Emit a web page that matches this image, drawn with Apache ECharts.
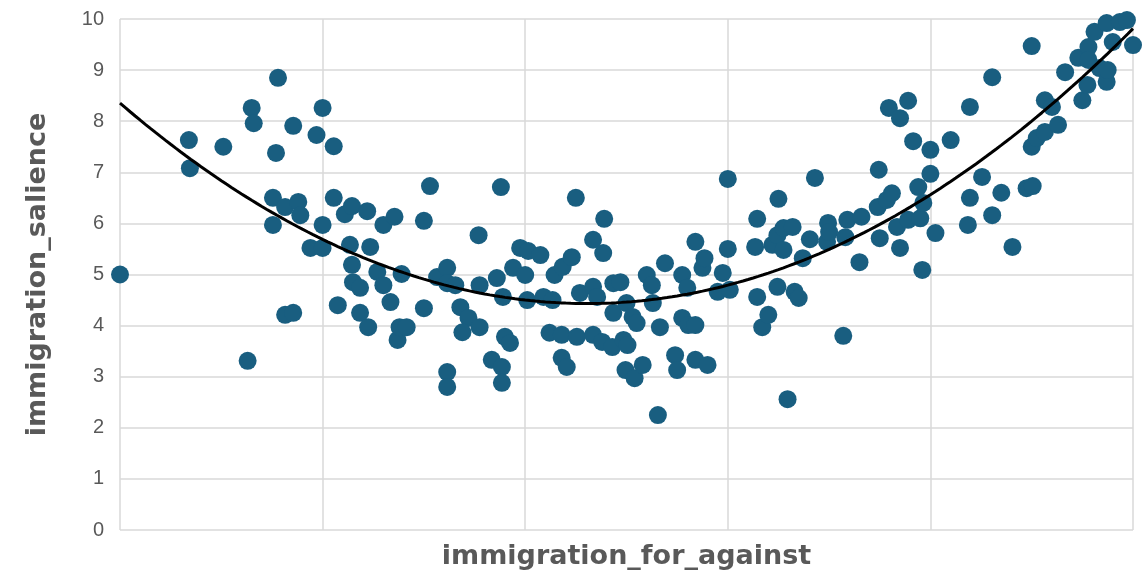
<!DOCTYPE html>
<html>
<head>
<meta charset="utf-8">
<script src="https://cdn.jsdelivr.net/npm/echarts@6/dist/echarts.min.js"></script>
<style>
  html, body { margin: 0; padding: 0; background: #ffffff; }
  #chart { width: 1145px; height: 576px; }
</style>
</head>
<body>
<div id="chart"></div>
<script>
// Survey responses: position on immigration (for/against) vs. how salient the issue is
const forAgainst = [
  0.00, 0.68, 0.69, 1.02, 1.26, 1.30, 1.32, 1.51, 1.51, 1.54, 1.56, 1.63, 1.63, 1.71, 1.71, 1.76, 1.78, 1.88, 1.94, 2.00,
  2.00, 2.00, 2.11, 2.11, 2.15, 2.22, 2.27, 2.29, 2.29, 2.30, 2.37, 2.37, 2.44, 2.45, 2.47, 2.54, 2.60, 2.60, 2.67, 2.71,
  2.74, 2.76, 2.83, 2.78, 3.00, 3.00, 3.06, 3.13, 3.23, 3.23, 3.23, 3.23, 3.31, 3.36, 3.44, 3.38, 3.55, 3.54, 3.55, 3.67,
  3.72, 3.76, 3.77, 3.77, 3.78, 3.80, 3.85, 3.88, 3.95, 4.00, 4.02, 4.03, 4.15, 4.18, 4.24, 4.27, 4.29, 4.36, 4.36, 4.37,
  4.41, 4.46, 4.50, 4.51, 4.54, 4.67, 4.67, 4.67, 4.71, 4.76, 4.77, 4.78, 4.86, 4.87, 4.87, 4.94, 4.97, 4.99, 5.00, 5.01,
  5.06, 5.10, 5.08, 5.16, 5.20, 5.25, 5.26, 5.31, 5.33, 5.38, 5.48, 5.50, 5.55, 5.55, 5.60, 5.61, 5.68, 5.68, 5.68, 5.75,
  5.77, 5.80, 5.90, 5.95, 6.00, 6.00, 6.02, 6.27, 6.29, 6.29, 6.34, 6.40, 6.44, 6.49, 6.49, 6.50, 6.55, 6.55, 6.59, 6.64,
  6.66, 6.70, 6.74, 6.81, 6.86, 6.98, 6.99, 7.00, 7.14, 7.16, 7.18, 7.30, 7.32, 7.48, 7.49, 7.50, 7.57, 7.59, 7.62, 7.67,
  7.70, 7.70, 7.78, 7.78, 7.83, 7.88, 7.90, 7.92, 7.93, 8.00, 8.00, 8.05, 8.20, 8.37, 8.39, 8.39, 8.51, 8.61, 8.61, 8.70,
  8.81, 8.95, 9.01, 9.00, 9.00, 9.05, 9.13, 9.13, 9.20, 9.26, 9.33, 9.46, 9.50, 9.55, 9.56, 9.56, 9.62, 9.67, 9.74, 9.74,
  9.75, 9.80, 9.87, 9.94, 10.00
];
const salience = [
  5.00, 7.63, 7.08, 7.50, 3.31, 8.26, 7.96, 6.50, 5.97, 7.38, 8.85, 6.32, 4.21, 4.25, 7.91, 6.42, 6.16, 5.52, 7.73, 8.26,
  5.97, 5.52, 7.51, 6.50, 4.40, 6.18, 5.58, 6.34, 5.19, 4.85, 4.74, 4.25, 6.24, 3.97, 5.54, 5.05, 5.97, 4.79, 4.46, 6.13,
  3.72, 3.97, 3.97, 5.01, 6.05, 4.34, 6.73, 4.95, 5.13, 4.83, 3.09, 2.80, 4.79, 4.36, 4.15, 3.87, 3.97, 5.77, 4.79, 3.33,
  4.93, 6.71, 3.19, 2.88, 4.56, 3.78, 3.66, 5.13, 5.52, 4.99, 4.50, 5.46, 5.38, 4.56, 3.86, 4.50, 4.99, 3.82, 3.37, 5.15,
  3.19, 5.34, 6.50, 3.78, 4.64, 4.76, 5.68, 3.82, 4.56, 3.68, 5.42, 6.09, 3.58, 4.83, 4.25, 4.85, 3.72, 3.13, 4.44, 3.62,
  4.17, 4.05, 2.97, 3.23, 4.99, 4.79, 4.44, 2.25, 3.97, 5.22, 3.42, 3.13, 4.99, 4.15, 4.74, 4.01, 4.01, 5.64, 3.33, 5.13,
  5.32, 3.23, 4.66, 5.03, 6.87, 5.50, 4.70, 5.54, 6.09, 4.56, 3.97, 4.21, 5.58, 5.77, 4.76, 6.48, 5.91, 5.48, 2.56, 5.93,
  4.66, 4.54, 5.32, 5.69, 6.89, 5.64, 6.01, 5.83, 3.80, 5.73, 6.07, 5.24, 6.13, 6.32, 7.05, 5.71, 6.46, 8.26, 6.59, 5.93,
  8.06, 5.52, 8.40, 6.07, 7.61, 6.71, 6.10, 5.09, 6.40, 7.44, 6.97, 5.81, 7.63, 5.97, 8.28, 6.50, 6.91, 8.86, 6.16, 6.60,
  5.54, 6.69, 6.73, 9.47, 7.50, 7.67, 7.79, 8.41, 8.28, 7.93, 8.96, 9.24, 8.41, 8.71, 9.45, 9.20, 9.75, 9.04, 9.92, 8.77,
  9.00, 9.55, 9.94, 9.98, 9.49
];
const yTickLabels = ['0', '1', '2', '3', '4', '5', '6', '7', '8', '9', '10'];

const points = forAgainst.map((x, i) => [x, salience[i]]);

// Second-order polynomial least-squares trendline fitted to the points
function quadraticFit(xs, ys) {
  let s = [0, 0, 0, 0, 0], t = [0, 0, 0];
  for (let i = 0; i < xs.length; i++) {
    const x = xs[i], y = ys[i];
    let p = 1;
    for (let k = 0; k <= 4; k++) { s[k] += p; if (k <= 2) t[k] += p * y; p *= x; }
  }
  const A = [[s[0], s[1], s[2], t[0]], [s[1], s[2], s[3], t[1]], [s[2], s[3], s[4], t[2]]];
  for (let c = 0; c < 3; c++) {
    for (let r = c + 1; r < 3; r++) {
      const f = A[r][c] / A[c][c];
      for (let k = c; k < 4; k++) A[r][k] -= f * A[c][k];
    }
  }
  const b = [0, 0, 0];
  for (let r = 2; r >= 0; r--) {
    let v = A[r][3];
    for (let k = r + 1; k < 3; k++) v -= A[r][k] * b[k];
    b[r] = v / A[r][r];
  }
  return b;
}
const coef = quadraticFit(forAgainst, salience);
const trend = [];
for (let i = 0; i <= 200; i++) {
  const x = i * 0.05;
  trend.push([x, coef[0] + coef[1] * x + coef[2] * x * x]);
}

const labelColor = '#595959';
const gridColor = '#d9d9d9';
const tickFont = 'Liberation Sans, Arial, sans-serif';
const titleFont = 'DejaVu Sans, sans-serif';

const chart = echarts.init(document.getElementById('chart'), null, { renderer: 'canvas' });
chart.setOption({
  animation: false,
  backgroundColor: '#ffffff',
  grid: { left: 120, right: 12, top: 19, bottom: 46 },
  xAxis: {
    type: 'value',
    min: 0, max: 10, interval: 2,
    name: 'immigration_for_against',
    nameLocation: 'middle',
    nameGap: 13,
    nameTextStyle: { color: labelColor, fontSize: 27, fontWeight: 'bold', fontFamily: titleFont },
    axisLine: { show: false },
    axisTick: { show: false },
    axisLabel: { show: false },
    splitLine: { show: true, lineStyle: { color: gridColor, width: 1.5 } }
  },
  yAxis: {
    type: 'value',
    min: 0, max: 10, interval: 1,
    name: 'immigration_salience',
    nameLocation: 'middle',
    nameGap: 69,
    nameTextStyle: { color: labelColor, fontSize: 27, fontWeight: 'bold', fontFamily: titleFont },
    axisLine: { show: false },
    axisTick: { show: false },
    axisLabel: {
      color: labelColor, fontSize: 20, fontFamily: tickFont, margin: 16,
      formatter: (v) => yTickLabels[Math.round(v)]
    },
    splitLine: { show: true, lineStyle: { color: gridColor, width: 1.5 } }
  },
  series: [
    {
      type: 'scatter',
      data: points,
      symbol: 'circle',
      symbolSize: 18,
      itemStyle: { color: '#195e80', opacity: 1 },
      z: 2
    },
    {
      type: 'line',
      data: trend,
      showSymbol: false,
      smooth: false,
      lineStyle: { color: '#000000', width: 3 },
      z: 3
    }
  ]
});
</script>
</body>
</html>
